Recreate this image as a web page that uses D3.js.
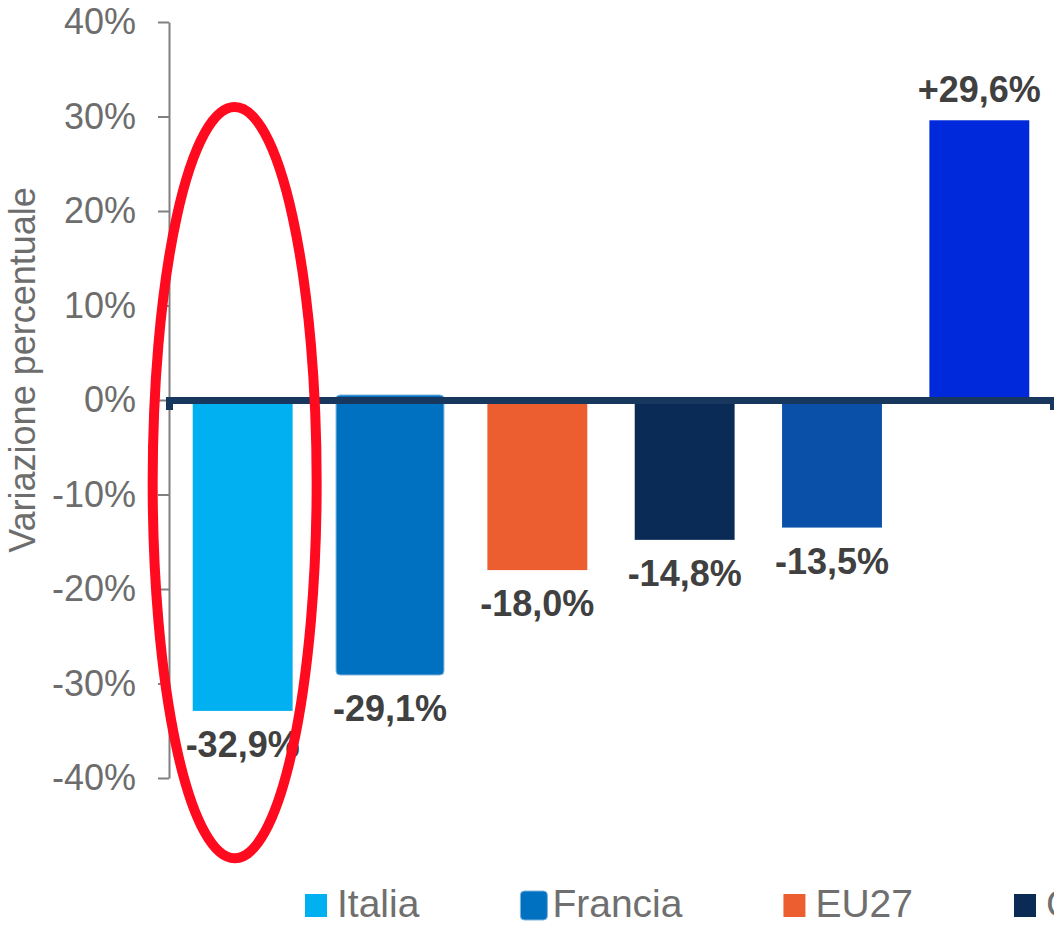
<!DOCTYPE html>
<html>
<head>
<meta charset="utf-8">
<script src="https://cdn.jsdelivr.net/npm/d3@7"></script>
<style>
  body { margin: 0; background: #fff; }
  svg { display: block; font-family: "Liberation Sans", Arial, sans-serif; }
</style>
</head>
<body>
<script>
// data ==============================================================
var paesi   = ["Italia", "Francia", "EU27", "Germania", "Spagna", "Polonia"]
var valori  = [-0.329, -0.291, -0.180, -0.148, -0.135, 0.296]
var etichette = ["-32,9%", "-29,1%", "-18,0%", "-14,8%", "-13,5%", "+29,6%"]
var colori  = ["#00b0f0", "#0070c0", "#ec5e2f", "#0b2b57", "#0a50a8", "#0029dc"]
var yTicks  = [-0.4, -0.3, -0.2, -0.1, 0, 0.1, 0.2, 0.3, 0.4]
var evidenziato = "Francia"      // bar with the rounded outline
var cerchiato   = "Italia"       // bar circled in red
var ellisseRange = [0.31, -0.485] // vertical span of the red ellipse

var W = 1054, H = 926

var svg = d3.select("body").append("svg")
    .attr("width", W).attr("height", H)

var x = d3.scaleBand()
    .domain(paesi)
    .range([169, 1053])
    .paddingInner(0.322)
    .paddingOuter(0.161)

var y = d3.scaleLinear()
    .domain([-0.4, 0.4])
    .range([778, 22])

// y axis
var yAxis = svg.append("g")
    .attr("transform", "translate(169,0)")
    .call(d3.axisLeft(y).tickValues(yTicks).tickSize(11).tickSizeOuter(0)
        .tickFormat(function(d) { return Math.round(d * 100) + "%" }))
yAxis.select(".domain").attr("stroke", "#808080").attr("stroke-width", 2)
yAxis.selectAll(".tick line").attr("stroke", "#808080").attr("stroke-width", 2)
yAxis.selectAll(".tick text")
    .attr("x", -33)
    .attr("fill", "#6d6d6d")
    .attr("font-size", "36px")
    .attr("font-family", "Liberation Sans, Arial, sans-serif")

svg.append("text")
    .attr("transform", "translate(35,370) rotate(-90)")
    .attr("text-anchor", "middle")
    .attr("fill", "#6d6d6d")
    .attr("font-size", "36px")
    .text("Variazione percentuale")

// bars
var data = paesi.map(function(p, i) {
    return { name: p, value: valori[i], label: etichette[i], color: colori[i] }
})

svg.append("g").selectAll("rect")
    .data(data)
    .enter().append("rect")
    .attr("x", function(d) { return d.name == evidenziato ? x(d.name) - 4 : x(d.name) })
    .attr("width", function(d) { return d.name == evidenziato ? x.bandwidth() + 8 : x.bandwidth() })
    .attr("y", function(d) { return y(Math.max(0, d.value)) - (d.name == evidenziato ? 5 : 0) })
    .attr("height", function(d) { return Math.abs(y(d.value) - y(0)) + (d.name == evidenziato ? 5 : 0) })
    .attr("rx", function(d) { return d.name == evidenziato ? 4 : 0 })
    .attr("fill", function(d) { return d.color })
    .attr("stroke", function(d) { return d.name == evidenziato ? "#7fb2de" : "none" })
    .attr("stroke-width", 1)

// value labels
svg.append("g").selectAll("text")
    .data(data)
    .enter().append("text")
    .attr("x", function(d) { return x(d.name) + x.bandwidth() / 2 })
    .attr("y", function(d) { return d.value < 0 ? y(d.value) + 46 : y(d.value) - 18 })
    .attr("text-anchor", "middle")
    .attr("fill", "#404040")
    .attr("font-size", "36px")
    .attr("font-weight", "bold")
    .text(function(d) { return d.label })

// zero line (category axis)
var xAxis = svg.append("g")
    .attr("transform", "translate(0," + y(0) + ")")
    .call(d3.axisBottom(x).tickSize(0).tickSizeOuter(10).tickFormat(""))
xAxis.select(".domain").attr("stroke", "#17375e").attr("stroke-width", 7)

// red ellipse around the circled bar
var ey0 = y(ellisseRange[0]), ey1 = y(ellisseRange[1])
svg.append("ellipse")
    .attr("cx", x(cerchiato) + x.bandwidth() / 2 - 8)
    .attr("cy", (ey0 + ey1) / 2)
    .attr("rx", 82)
    .attr("ry", (ey1 - ey0) / 2)
    .attr("fill", "none")
    .attr("stroke", "#ff0a1e")
    .attr("stroke-width", 10)

// legend (entries that start past the right edge are not drawn)
var legend = svg.append("g")
var lx = 305
data.forEach(function(d) {
    if (lx > W) return
    var big = d.name == evidenziato
    legend.append("rect")
        .attr("x", lx)
        .attr("y", big ? 891 : 894)
        .attr("width", big ? 27 : 22)
        .attr("height", big ? 29 : 23)
        .attr("rx", big ? 4 : 0)
        .attr("fill", d.color)
        .attr("stroke", big ? "#7fb2de" : "none")
    var t = legend.append("text")
        .attr("x", lx + 32)
        .attr("y", 917)
        .attr("fill", "#6f6f6f")
        .attr("font-size", "39px")
        .text(d.name)
    lx = lx + 32 + t.node().getComputedTextLength() + 101
})
</script>
</body>
</html>
